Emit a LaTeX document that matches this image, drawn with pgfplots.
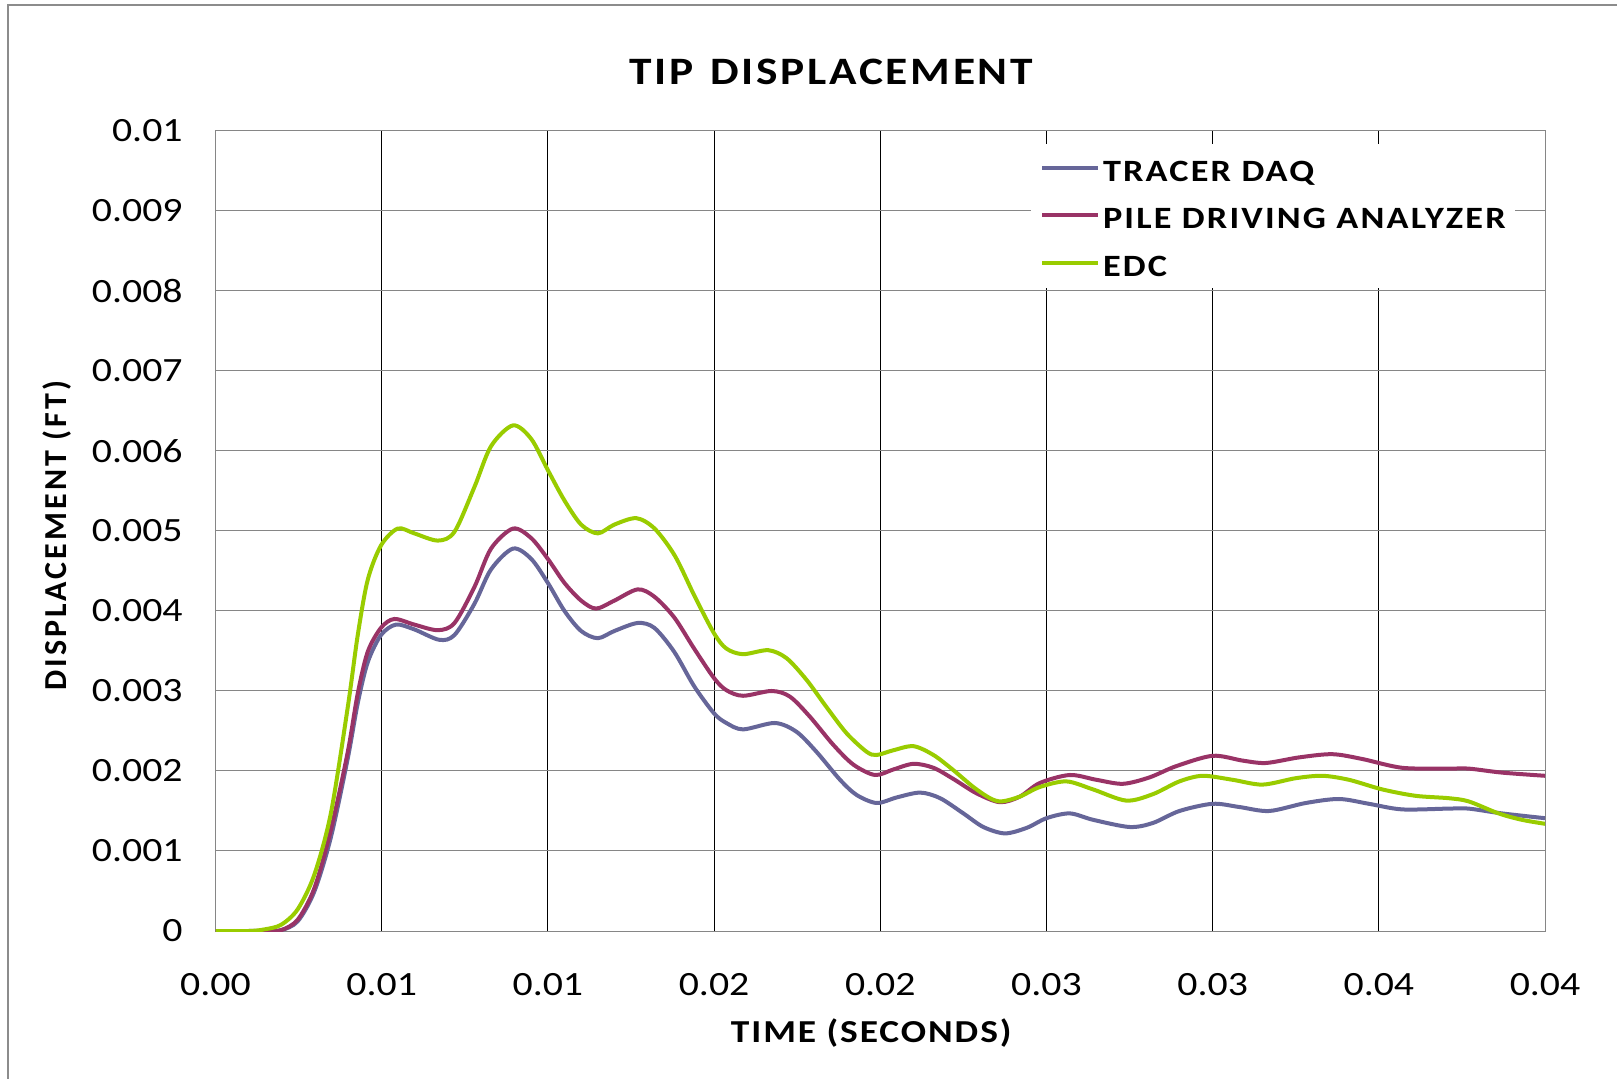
\documentclass[border=0pt]{standalone}
\usepackage{fontspec}
\setmainfont{Carlito}[FakeStretch=1.17]
\newfontfamily\uprightlabel{Carlito}
\usepackage{pgfplots}
\pgfplotsset{compat=1.18}

\definecolor{tracer}{HTML}{666699}
\definecolor{pda}{HTML}{993366}
\definecolor{edc}{HTML}{99CC00}
\definecolor{gridgray}{HTML}{868686}
\definecolor{framegray}{HTML}{8C8C8C}

% time (s) vs tip displacement (ft)
\pgfplotstableread{
t        v
0        0
0.0010   0
0.0015   0.000002
0.00197  0.00001
0.00247  0.00012
0.00297  0.00049
0.00347  0.00117
0.00398  0.00216
0.00428  0.00285
0.00458  0.00336
0.00498  0.00370
0.00543  0.00383
0.00598  0.00377
0.00673  0.00364
0.00719  0.00370
0.00779  0.00409
0.00829  0.00452
0.00895  0.00478
0.0095   0.00465
0.0100   0.00435
0.0105   0.00400
0.0110   0.00375
0.0115   0.00366
0.0120   0.00375
0.0127   0.00385
0.0132   0.00379
0.0138   0.00349
0.0144   0.00306
0.0150   0.00272
0.01537  0.00260
0.01587  0.00252
0.01683  0.00260
0.01748  0.00249
0.01808  0.00224
0.01879  0.00189
0.01929  0.00170
0.01989  0.00160
0.0205   0.00167
0.0212   0.00173
0.0218   0.00166
0.0225   0.00147
0.0231   0.00130
0.02375  0.00122
0.02441  0.00129
0.0250   0.00141
0.0257   0.00147
0.0264   0.00139
0.0275   0.00130
0.0282   0.00135
0.0290   0.00150
0.0300   0.00159
0.0308   0.00155
0.0317   0.00150
0.0328   0.00160
0.0338   0.00165
0.0347   0.00159
0.0357   0.00152
0.0371   0.00153
0.0377   0.00153
0.0387   0.00147
0.0400   0.00141
}\tracerdaq

\pgfplotstableread{
t        v
0        0
0.0010   0
0.0015   0
0.00197  0.00001
0.00247  0.00014
0.00297  0.00053
0.00347  0.00126
0.00398  0.00224
0.00428  0.00297
0.00458  0.00349
0.00498  0.00379
0.00538  0.00390
0.00598  0.00383
0.00669  0.00376
0.00719  0.00385
0.00779  0.00430
0.00829  0.00478
0.00895  0.00503
0.0095   0.00491
0.0100   0.00465
0.0105   0.00435
0.0110   0.00413
0.01145  0.00403
0.0120   0.00413
0.0127   0.00427
0.0132   0.00418
0.0138   0.00392
0.0144   0.00353
0.0150   0.00316
0.01537  0.00301
0.01587  0.00294
0.01673  0.00300
0.01728  0.00293
0.01788  0.00268
0.01858  0.00233
0.01919  0.00208
0.01984  0.00195
0.0204   0.00202
0.0210   0.00209
0.0216   0.00204
0.0222   0.00190
0.0229   0.00172
0.0236   0.00161
0.0242   0.00168
0.0248   0.00185
0.0257   0.00195
0.0265   0.00189
0.0273   0.00184
0.0281   0.00192
0.0289   0.00206
0.0300   0.00219
0.0309   0.00213
0.0316   0.00210
0.0326   0.00217
0.0336   0.00221
0.0345   0.00215
0.0357   0.00204
0.0371   0.00203
0.0377   0.00203
0.0387   0.00198
0.0400   0.00194
}\pda

\pgfplotstableread{
t        v
0        0
0.0010   0
0.00147  0.00002
0.00197  0.000077
0.00247  0.00027
0.00297  0.00070
0.00347  0.00147
0.00398  0.00280
0.00428  0.00370
0.00458  0.00439
0.00498  0.00482
0.00548  0.00503
0.00598  0.00497
0.00669  0.00488
0.00719  0.00499
0.00779  0.00555
0.00829  0.00606
0.00895  0.00632
0.0095   0.00615
0.0100   0.00576
0.0105   0.00538
0.0110   0.00508
0.0115   0.00497
0.0120   0.00508
0.01266  0.00516
0.01321  0.00503
0.01382  0.00469
0.01442  0.00418
0.0150   0.00372
0.01537  0.00353
0.01587  0.00346
0.01663  0.00351
0.01718  0.00341
0.01778  0.00314
0.01838  0.00280
0.01899  0.00247
0.01959  0.00224
0.01989  0.00220
0.0204   0.00226
0.0210   0.00231
0.0216   0.00220
0.0222   0.00201
0.0228   0.00180
0.0233   0.00166
0.02365  0.00162
0.0242   0.00168
0.0248   0.00180
0.0256   0.00187
0.0264   0.00177
0.0274   0.00163
0.0282   0.00171
0.0290   0.00187
0.0297   0.00194
0.0306   0.00189
0.0315   0.00183
0.0325   0.00191
0.0333   0.00194
0.0341   0.00189
0.0351   0.00177
0.0361   0.00169
0.0371   0.00166
0.0377   0.00162
0.0386   0.00147
0.0393   0.00139
0.0400   0.00134
}\edc

\begin{document}
\begin{tikzpicture}[x=0.5bp,y=0.5bp]
\path[use as bounding box] (0,0) rectangle (1617,1078);
% chart frame
\draw[framegray, line width=1bp] (8,-20) -- (8,1073) -- (1640,1073);
\begin{axis}[
  at={(107.75bp,73.5bp)}, anchor=south west,
  width=664.75bp, height=400bp, scale only axis,
  xmin=0, xmax=0.04, ymin=0, ymax=0.01,
  scaled ticks=false,
  xtick={0,0.005,0.01,0.015,0.02,0.025,0.03,0.035,0.04},
  xticklabels={0.00,0.01,0.01,0.02,0.02,0.03,0.03,0.04,0.04},
  ytick={0,0.001,0.002,0.003,0.004,0.005,0.006,0.007,0.008,0.009,0.01},
  yticklabels={0,0.001,0.002,0.003,0.004,0.005,0.006,0.007,0.008,0.009,0.01},
  /pgf/number format/assume math mode=true,
  major tick length=0pt,
  grid=major,
  x grid style={black, line width=0.5bp},
  y grid style={gridgray, line width=0.5bp},
  axis line style={gridgray, line width=0.5bp},
  tick label style={font=\fontsize{17bp}{20bp}\selectfont},
  yticklabel style={anchor=east, inner sep=0pt, xshift=-16.25bp},
  xticklabel style={anchor=north, inner sep=0pt, yshift=-21bp},
  every axis title shift=0pt,
  title={TIP\ \hspace{2bp}DISPLACEMENT},
  title style={at={(axis description cs:0.463,1.0738)}, anchor=center, inner sep=0pt,
    font=\fontsize{19.4bp}{22bp}\selectfont\bfseries\addfontfeatures{LetterSpace=7}},
  xlabel={TIME (SECONDS)},
  xlabel style={at={(axis description cs:0.4932,-0.1275)}, anchor=center, inner sep=0pt,
    font=\fontsize{16bp}{19bp}\selectfont\bfseries\addfontfeatures{LetterSpace=6}},
  ylabel={DISPLACEMENT (FT)},
  ylabel style={at={(axis description cs:-0.1192,0.494)}, anchor=center, inner sep=0pt,
    font=\fontsize{16bp}{19bp}\selectfont\uprightlabel\bfseries\addfontfeatures{LetterSpace=9.5}},
  legend style={at={(axis description cs:0.6134,0.98375)}, anchor=north west,
    draw=none, fill=white, inner xsep=4.5bp, inner ysep=5.75bp,
    row sep=11bp, column sep=1.3bp,
    nodes={inner sep=0pt, text height=12.75bp, text depth=0bp},
    cells={anchor=west},
    font=\fontsize{15.5bp}{18bp}\selectfont\bfseries\addfontfeatures{LetterSpace=7}},
  legend image code/.code={\draw[#1, line width=2bp] (0bp,0.5bp) -- (28bp,0.5bp);},
  every axis plot/.append style={line width=2bp, smooth, no marks},
]
\addplot[tracer] table[x=t, y=v] {\tracerdaq};
\addlegendentry{TRACER DAQ}
\addplot[pda] table[x=t, y=v] {\pda};
\addlegendentry{PILE DRIVING ANALYZER}
\addplot[edc] table[x=t, y=v] {\edc};
\addlegendentry{EDC}
\end{axis}
\end{tikzpicture}
\end{document}
